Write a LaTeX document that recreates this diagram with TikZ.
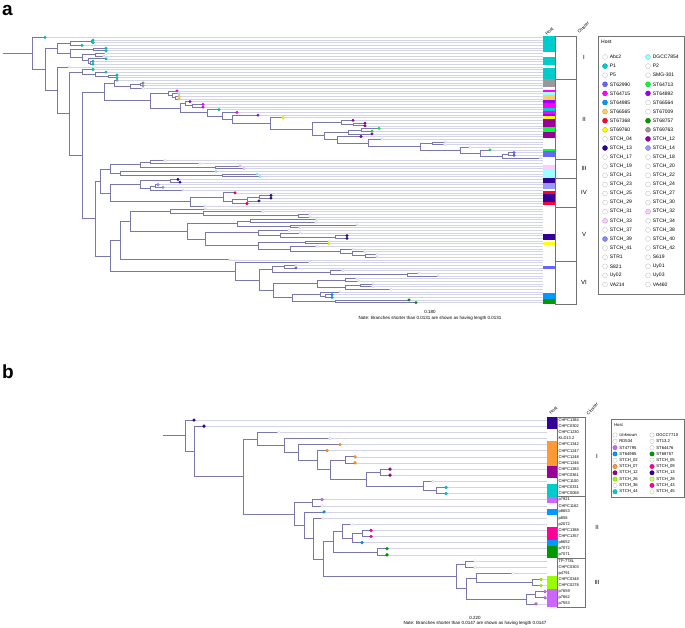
\documentclass[tikz,border=0pt]{standalone}
\usepackage{fontspec}
\setmainfont{Liberation Sans}
\usetikzlibrary{calc}
\definecolor{brc}{RGB}{120,120,175}
\definecolor{lfc}{RGB}{212,212,232}
\definecolor{wht}{RGB}{255,255,255}
\definecolor{tel}{RGB}{0,204,204}
\definecolor{lcy}{RGB}{153,255,255}
\definecolor{bvi}{RGB}{102,102,255}
\definecolor{grn}{RGB}{0,255,51}
\definecolor{mag}{RGB}{255,0,255}
\definecolor{vio}{RGB}{153,0,255}
\definecolor{azu}{RGB}{0,153,255}
\definecolor{ora}{RGB}{255,204,102}
\definecolor{red}{RGB}{255,0,51}
\definecolor{dgr}{RGB}{0,153,0}
\definecolor{yel}{RGB}{255,255,0}
\definecolor{gry}{RGB}{153,153,153}
\definecolor{dmg}{RGB}{153,0,153}
\definecolor{ind}{RGB}{51,0,153}
\definecolor{lav}{RGB}{153,153,255}
\definecolor{blv}{RGB}{136,136,255}
\definecolor{pnk}{RGB}{255,204,255}
\definecolor{orb}{RGB}{255,153,51}
\definecolor{pkb}{RGB}{255,0,153}
\definecolor{lpu}{RGB}{204,102,255}
\definecolor{lim}{RGB}{153,255,0}
\definecolor{lmb}{RGB}{204,255,102}
\tikzset{
  branch/.style   = {draw=brc, line width=0.6pt},
  leafline/.style = {draw=lfc, line width=0.5pt},
  tipdot/.style   = {circle, inner sep=0pt, minimum size=2.6pt, line width=0.3pt},
  hostdot/.style  = {circle, inner sep=0pt, minimum size=5pt, line width=0.35pt},
  panel/.style    = {anchor=base west, inner sep=0pt, text height=10pt, text depth=0pt,
                     font=\fontsize{19}{19}\selectfont\bfseries},
  lbl/.style      = {anchor=west, inner sep=0pt, font=\fontsize{4}{4}\selectfont},
  legtext/.style  = {anchor=west, inner sep=0pt, font=\fontsize{5}{5}\selectfont},
  legtextb/.style = {anchor=west, inner sep=0pt, font=\fontsize{4.2}{4.2}\selectfont},
  clus/.style     = {inner sep=0pt, font=\fontsize{6}{6}\selectfont},
  head/.style     = {anchor=west, rotate=45, inner sep=0pt, font=\fontsize{4.5}{4.5}\selectfont},
  note/.style     = {inner sep=0pt, font=\fontsize{4.5}{4.5}\selectfont},
  boxline/.style  = {draw=black!55, line width=0.4pt},
}
% clade: name, x, upper child, lower child
\newcommand\mkclade[4]{%
  \path let \p1=(#3), \p2=(#4) in coordinate (#1) at (#2pt,{0.5*(\y1+\y2)});
  \draw[branch] (#1) |- (#3) (#1) |- (#4);}
% tips of tree a: index/x of tip/host colour
\def\tipsA{1/45/tel,2/93/tel,3/93/tel,4/82/tel,5/106/tel,6/106/tel,7/106/wht,8/104/wht,
  9/106/tel,10/93/tel,11/93/tel,12/69/wht,13/93/tel,14/106/tel,15/117/tel,16/117/tel,
  17/117/gry,18/143/gry,19/143/gry,20/143/wht,21/177/mag,22/179/lcy,23/179/ora,24/179/ora,
  25/190/vio,26/203/mag,27/203/mag,28/219/tel,29/237/mag,30/258/vio,31/283/yel,32/353/dmg,
  33/365/dmg,34/365/dmg,35/379/grn,36/372/grn,37/372/dmg,38/361/dmg,39/382/wht,40/445/wht,
  41/445/wht,42/470/wht,43/490/grn,44/514/bvi,45/514/bvi,46/540/wht,
  47/165/wht,48/200/wht,49/240/pnk,50/244/pnk,51/216/lcy,52/257/lcy,53/260/lcy,
  54/178/ind,55/180/ind,56/158/lav,57/163/lav,58/183/wht,59/235/red,60/271/ind,61/271/ind,
  62/259/ind,63/247/red,64/205/wht,
  65/205/wht,66/263/wht,67/310/wht,68/310/wht,69/317/wht,70/316/wht,71/357/wht,72/300/wht,
  73/289/wht,74/300/wht,75/347/ind,76/347/ind,77/329/wht,78/329/yel,79/317/wht,80/353/wht,
  81/365/wht,82/377/wht,83/377/wht,84/230/wht,
  85/310/wht,86/296/wht,87/296/bvi,88/343/wht,89/419/wht,90/438/wht,91/357/wht,92/359/wht,
  93/373/wht,94/373/wht,95/391/wht,96/340/wht,97/332/azu,98/332/azu,99/409/dgr,100/416/dgr}
% tips of tree b: index/x of tip/host colour/label
\def\tipsB{1/194/ind/CHPC1384,2/204/ind/CHPC0302,3/279/wht/CHPC1230,4/330/wht/KLD13.2,
  5/340/orb/CHPC1342,6/327/orb/CHPC1247,7/355/orb/CHPC1248,8/355/orb/CHPC1246,
  9/390/dmg/CHPC1383,10/390/dmg/CHPC0361,11/433/wht/CHPC1100,12/446/tel/CHPC0331,
  13/446/tel/CHPC0068,14/322/lpu/p7921,15/322/wht/CHPC1162,16/324/azu/p8653,
  17/323/wht/p858,18/352/wht/p2072,19/371/pkb/CHPC1388,20/371/pkb/CHPC1357,
  21/362/azu/p8652,22/387/dgr/p7072,23/387/dgr/p7071,24/475/wht/TP-778L,
  25/475/wht/CHPC0303,26/513/wht/p4791,27/541/lim/CHPC0348,28/541/lim/CHPC0278,
  29/545/lpu/p7659,30/545/lpu/p7662,31/536/lpu/p7553}
\def\hostsA{Abc2/wht,DGCC7854/lcy,P1/tel,P2/wht,P5/wht,SMG-301/wht,ST62990/bvi,ST64713/grn,
  ST64715/mag,ST64892/vio,ST64985/azu,ST66564/wht,ST66565/ora,ST67009/wht,ST67368/red,
  ST68757/dgr,ST69760/yel,ST69763/gry,STCH\_04/wht,STCH\_12/dmg,STCH\_13/ind,STCH\_14/lav,
  STCH\_17/wht,STCH\_18/wht,STCH\_19/wht,STCH\_20/wht,STCH\_21/wht,STCH\_22/wht,STCH\_23/wht,
  STCH\_24/wht,STCH\_25/wht,STCH\_27/wht,STCH\_29/wht,STCH\_30/wht,STCH\_31/wht,STCH\_32/pnk,
  STCH\_33/pnk,STCH\_34/wht,STCH\_37/wht,STCH\_38/wht,STCH\_39/blv,STCH\_40/wht,STCH\_41/wht,
  STCH\_42/wht,STR1/wht,S619/wht,S821/wht,Uy01/wht,Uy02/wht,Uy03/wht,VA214/wht,VA460/wht}
\def\hostsB{\textit{Unknown}/wht,DGCC7710/wht,RD534/wht,ST13.2/wht,ST47795/lpu,ST64476/wht,
  ST64985/azu,ST68757/dgr,STCH\_02/wht,STCH\_05/wht,STCH\_07/orb,STCH\_09/pkb,STCH\_12/dmg,
  STCH\_13/ind,STCH\_26/lim,STCH\_28/lmb,STCH\_36/wht,STCH\_43/pkb,STCH\_44/tel,STCH\_45/wht}

\begin{document}
\begin{tikzpicture}[x=1pt,y=-1pt]
  \useasboundingbox (0,0) rectangle (685,627);

  %% ---------------- panel a ----------------
  \node[panel] (pa) at (2,15.5) {a};
  \foreach \k/\x/\hc in \tipsA {
    \coordinate (a\k) at (\x,{37.34+(\k-1)*2.68});
    \coordinate (sa\k) at (543,{37.34+(\k-1)*2.68});
    \draw[leafline] (a\k) -- (sa\k);
    \fill[\hc] (543,{36+(\k-1)*2.68}) rectangle (555,{36+\k*2.68});
  }
  % cluster I
  \mkclade{aF}{91}{a2}{a3}
  \mkclade{aD}{70}{aF}{a4}
  \mkclade{aG}{93}{a5}{a6}
  \mkclade{aI}{95}{a7}{a8}
  \mkclade{aK}{90}{a10}{a11}
  \mkclade{aJ}{88}{a9}{aK}
  \mkclade{aH}{82}{aI}{aJ}
  \mkclade{aE}{70}{aG}{aH}
  \mkclade{aB}{57}{aD}{aE}
  \mkclade{aC3b}{108}{a15}{a16}
  \mkclade{aC3a}{95}{a14}{aC3b}
  \mkclade{aC3}{82}{a13}{aC3a}
  % cluster II
  \mkclade{aC5b}{140}{a18}{a19}
  \mkclade{aC5a}{130}{aC5b}{a20}
  \mkclade{aC5x}{114}{a17}{aC5a}
  \mkclade{aC7c}{175}{a23}{a24}
  \mkclade{aC7b}{172}{a22}{aC7c}
  \mkclade{aC7a}{168}{a21}{aC7b}
  \mkclade{aC8b}{192}{a26}{a27}
  \mkclade{aC8a}{185}{a25}{aC8b}
  \mkclade{aC24}{508}{a44}{a45}
  \mkclade{aC23}{502}{aC24}{a46}
  \mkclade{aC22}{480}{a43}{aC23}
  \mkclade{aC21}{460}{a42}{aC22}
  \mkclade{aC20}{432}{a40}{a41}
  \mkclade{aC19}{420}{aC20}{aC21}
  \mkclade{aC18}{368}{a39}{aC19}
  \mkclade{aC17}{337}{a38}{aC18}
  \mkclade{aC16a}{361}{a35}{a36}
  \mkclade{aC16}{348}{aC16a}{a37}
  \mkclade{aC15}{324}{aC16}{aC17}
  \mkclade{aC14a}{353}{a33}{a34}
  \mkclade{aC14}{341}{a32}{aC14a}
  \mkclade{aC13}{312}{aC14}{aC15}
  \mkclade{aC12}{270}{a31}{aC13}
  \mkclade{aC11}{232}{a30}{aC12}
  \mkclade{aC10}{222}{a29}{aC11}
  \mkclade{aC9}{207}{a28}{aC10}
  \mkclade{aC8}{180}{aC8a}{aC9}
  \mkclade{aC7}{150}{aC7a}{aC8}
  \mkclade{aC5}{104}{aC5x}{aC7}
  % cluster III
  \mkclade{aT1a}{150}{a47}{a48}
  \mkclade{aT1b}{215}{a49}{a50}
  \mkclade{aT1}{140}{aT1a}{aT1b}
  \mkclade{aT2a}{222}{a52}{a53}
  \mkclade{aT2}{120}{a51}{aT2a}
  \mkclade{aT0}{110}{aT1}{aT2}
  % cluster IV
  \mkclade{aU1a}{170}{a54}{a55}
  \mkclade{aU1c}{155}{a56}{a57}
  \mkclade{aU1b}{150}{aU1c}{a58}
  \mkclade{aU1}{140}{aU1a}{aU1b}
  \mkclade{aU6}{259}{a60}{a61}
  \mkclade{aU5}{247}{aU6}{a62}
  \mkclade{aU4}{232}{aU5}{a63}
  \mkclade{aU3}{223}{a59}{aU4}
  \mkclade{aU2}{190}{aU3}{a64}
  \mkclade{aU0}{110}{aU1}{aU2}
  \mkclade{aTU}{100}{aT0}{aU0}
  % cluster V
  \mkclade{aV2b}{298}{a67}{a68}
  \mkclade{aV2a}{203}{a66}{aV2b}
  \mkclade{aV2}{170}{a65}{aV2a}
  \mkclade{aV4a}{250}{a69}{a70}
  \mkclade{aV4b}{290}{a71}{a72}
  \mkclade{aV4}{237}{aV4a}{aV4b}
  \mkclade{aV6a}{335}{a75}{a76}
  \mkclade{aV6b}{280}{a74}{aV6a}
  \mkclade{aV6}{258}{a73}{aV6b}
  \mkclade{aV7e}{365}{a82}{a83}
  \mkclade{aV7d}{352}{a81}{aV7e}
  \mkclade{aV7c}{340}{a80}{aV7d}
  \mkclade{aV7b}{290}{a79}{aV7c}
  \mkclade{aV7a}{305}{a77}{a78}
  \mkclade{aV7}{258}{aV7a}{aV7b}
  \mkclade{aV5}{205}{aV6}{aV7}
  \mkclade{aV3}{187}{aV4}{aV5}
  \mkclade{aV1}{130}{aV2}{aV3}
  \mkclade{aV0}{120}{aV1}{a84}
  % cluster VI
  \mkclade{aW2a}{284}{a86}{a87}
  \mkclade{aW2c}{407}{a89}{a90}
  \mkclade{aW2b}{330}{a88}{aW2c}
  \mkclade{aW2}{272}{aW2a}{aW2b}
  \mkclade{aW4a}{345}{a91}{a92}
  \mkclade{aW4c}{360}{a93}{a94}
  \mkclade{aW4b}{345}{aW4c}{a95}
  \mkclade{aW4}{317}{aW4a}{aW4b}
  \mkclade{aW5b}{325}{a97}{a98}
  \mkclade{aW5a}{320}{a96}{aW5b}
  \mkclade{aW5c}{335}{a99}{a100}
  \mkclade{aW5}{292}{aW5a}{aW5c}
  \mkclade{aW3}{273}{aW4}{aW5}
  \mkclade{aW1}{259}{aW2}{aW3}
  \mkclade{aW0}{235}{a85}{aW1}
  % backbone
  \mkclade{aVV}{110}{aV0}{aW0}
  \mkclade{aC6}{95}{aTU}{aVV}
  \mkclade{aC4}{82}{aC5}{aC6}
  \mkclade{aC2}{69}{aC3}{aC4}
  \mkclade{aC}{57}{a12}{aC2}
  \mkclade{aA}{45}{aB}{aC}
  \mkclade{aR}{32}{a1}{aA}
  \draw[branch] ([xshift=-29pt]aR) -- (aR);
  \foreach \k/\x/\hc in \tipsA {
    \node[tipdot, fill=\hc, draw=\hc!80!black] (da\k) at (a\k) {};
  }
  % cluster box a
  \draw[boxline] (555,36) rectangle (576,304);
  \foreach \yy in {78.9,159.3,178.0,207.5,261.1} { \draw[boxline] (555,\yy) -- (576,\yy); }
  \node[head] (hha) at (546,35) {Host};
  \node[head] (hca) at (578,33) {Cluster};
  \node[clus] (ka1) at (584,57.5) {I};
  \node[clus] (ka2) at (584,119) {II};
  \node[clus] (ka3) at (584,168.7) {III};
  \node[clus] (ka4) at (584,192.8) {IV};
  \node[clus] (ka5) at (584,234.3) {V};
  \node[clus] (ka6) at (584,282.5) {VI};
  \node[note] (sca) at (430,312) {0.180};
  \node[note] (nta) at (430,318.5) {Note: Branches shorter than 0.0131 are shown as having length 0.0131};
  % legend a
  \draw[boxline] (598,36) rectangle (684,294);
  \node[legtext] (lga) at (601,42) {Host};
  \foreach \n/\hc [count=\i from 0] in \hostsA {
    \pgfmathtruncatemacro\lrow{\i/2}
    \pgfmathtruncatemacro\lcol{mod(\i,2)}
    \node[hostdot, fill=\hc, draw=\hc!75!black] (ha\i) at ({605+43*\lcol},{57+9.1*\lrow}) {};
    \node[legtext] at ([xshift=2pt]ha\i.east) {\n};
  }

  %% ---------------- panel b ----------------
  \node[panel] (pb) at (2,378) {b};
  \foreach \k/\x/\hc/\lab in \tipsB {
    \coordinate (b\k) at (\x,{420+(\k-1)*6.13});
    \coordinate (sb\k) at (547,{420+(\k-1)*6.13});
    \draw[leafline] (b\k) -- (sb\k);
    \fill[\hc] (547,{416.94+(\k-1)*6.13}) rectangle (557,{416.94+\k*6.13});
    \node[lbl] (lb\k) at (558.5,{420+(\k-1)*6.13}) {\lab};
  }
  \mkclade{bM}{436}{b12}{b13}
  \mkclade{bL}{423}{b11}{bM}
  \mkclade{bK}{380}{b9}{b10}
  \mkclade{bJ}{366}{bK}{bL}
  \mkclade{bI}{345}{b7}{b8}
  \mkclade{bH}{330}{bI}{bJ}
  \mkclade{bG}{317}{b6}{bH}
  \mkclade{bF}{298}{b5}{bG}
  \mkclade{bE}{284}{b4}{bF}
  \mkclade{bD}{257}{b3}{bE}
  \mkclade{bO}{312}{b14}{b15}
  \mkclade{bY}{362}{b19}{b20}
  \mkclade{bX}{352}{bY}{b21}
  \mkclade{bV}{342}{b18}{bX}
  \mkclade{bW}{377}{b22}{b23}
  \mkclade{bT}{333}{bV}{bW}
  \mkclade{bU1}{465}{b24}{b25}
  \mkclade{bU4}{532}{b27}{b28}
  \mkclade{bU3}{476}{b26}{bU4}
  \mkclade{bU6}{535}{b29}{b30}
  \mkclade{bU5}{526}{bU6}{b31}
  \mkclade{bU2}{466}{bU3}{bU5}
  \mkclade{bU}{456}{bU1}{bU2}
  \mkclade{bS}{323}{bT}{bU}
  \mkclade{bQ}{313}{b17}{bS}
  \mkclade{bP}{304}{b16}{bQ}
  \mkclade{bN}{294}{bO}{bP}
  \mkclade{bC}{243}{bD}{bN}
  \mkclade{bB}{194}{b2}{bC}
  \mkclade{bA}{185}{b1}{bB}
  \draw[branch] ([xshift=-22pt]bA) -- (bA);
  \foreach \k/\x/\hc/\lab in \tipsB {
    \node[tipdot, minimum size=3pt, fill=\hc, draw=\hc!80!black] (db\k) at (b\k) {};
  }
  % cluster box b
  \draw[boxline] (557,416.94) rectangle (585,606.97);
  \draw[boxline] (557,496.63) -- (585,496.63);
  \draw[boxline] (557,557.92) -- (585,557.92);
  \node[head] (hhb) at (550,414) {Host};
  \node[head] (hcb) at (587,414) {Cluster};
  \node[clus] (kb1) at (597,456.8) {I};
  \node[clus] (kb2) at (597,527.3) {II};
  \node[clus] (kb3) at (597,582.4) {III};
  \node[note] (scb) at (475,617.5) {0.220};
  \node[note] (ntb) at (475,623.2) {Note: Branches shorter than 0.0147 are shown as having length 0.0147};
  % legend b
  \draw[boxline] (611,419) rectangle (684,497);
  \node[legtextb] (lgb) at (614,425) {Host};
  \foreach \n/\hc [count=\i from 0] in \hostsB {
    \pgfmathtruncatemacro\lrow{\i/2}
    \pgfmathtruncatemacro\lcol{mod(\i,2)}
    \node[hostdot, minimum size=4.4pt, fill=\hc, draw=\hc!75!black] (hb\i) at ({615+37*\lcol},{435+6.3*\lrow}) {};
    \node[legtextb] at ([xshift=1.8pt]hb\i.east) {\n};
  }
\end{tikzpicture}
\end{document}
